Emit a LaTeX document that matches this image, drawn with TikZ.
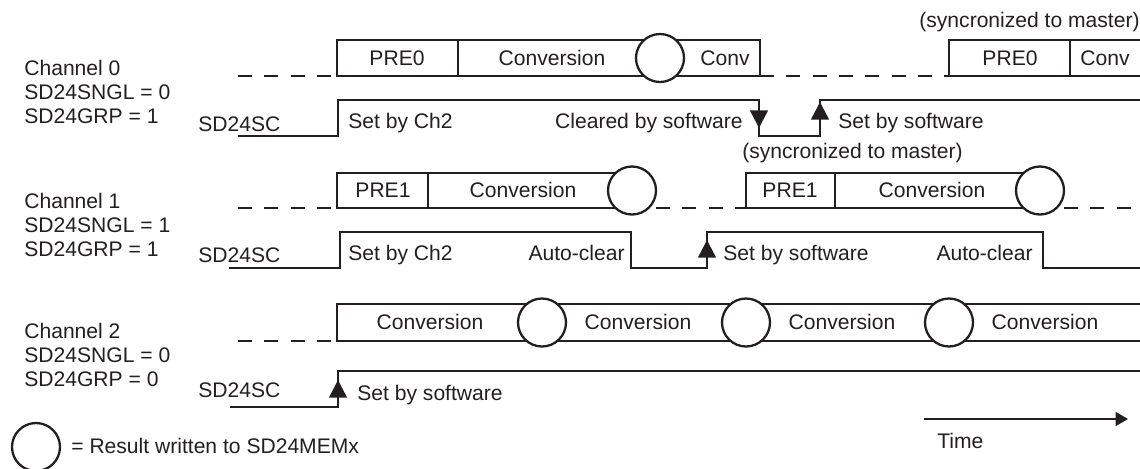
\documentclass[tikz,border=0pt]{standalone}
\usepackage{fontspec}
\setmainfont{Liberation Sans}
\usepackage{tikz}
\usetikzlibrary{arrows.meta,calc,positioning}
\definecolor{ink}{RGB}{35,31,32}
\tikzset{
  sig/.style={line width=1.4pt,draw=ink,line join=miter},
  dashline/.style={sig,dash pattern=on 8pt off 7pt},
  res/.style={circle,draw=ink,fill=white,line width=1.3pt,minimum size=0.96cm,inner sep=0pt},
  lbl/.style={font=\fontsize{12}{14}\selectfont,text=ink,inner sep=0pt},
  edgetip/.style={sig,-{Triangle[width=10pt,length=10pt]}}
}

\begin{document}
\begin{tikzpicture}[x=0.02cm,y=-0.02cm]
  \clip (0,0) rectangle (1140,468);
  % channel names and register settings
  \foreach \n/\s/\g/\y in {0/0/1/75, 1/1/1/208, 2/0/0/338}{
    \node[lbl,anchor=base west] (ch\n) at (24,\y) {Channel \n};
    \node[lbl,anchor=base west] (sngl\n) at (24,\y+24) {SD24SNGL = \s};
    \node[lbl,anchor=base west] (grp\n) at (24,\y+48) {SD24GRP = \g};
  }

  % ---- channel 0 ----
  \draw[dashline] (238,76) -- (337,76);
  \draw[sig] (337,40) rectangle (760,76);
  \draw[sig] (458,40) -- (458,76);
  \node[res] (r0a) at (660,58) {};
  \draw[dashline] (760,76) -- (949,76);
  \draw[sig] (1140,40) -- (949,40) -- (949,76) -- (1140,76);
  \draw[sig] (1070,40) -- (1070,76);
  \node[lbl,anchor=base] (pre0a) at (397,65) {PRE0};
  \node[lbl,anchor=base] (conv0a) at (552,65) {Conversion};
  \node[lbl,anchor=base] (conv0b) at (725,65) {Conv};
  \node[lbl,anchor=base] (pre0b) at (1010,65) {PRE0};
  \node[lbl,anchor=base west] (conv0c) at (1080,65) {Conv};
  \node[lbl,anchor=base east] (sync0) at (1140,27) {(syncronized to master)};

  \draw[sig] (238,136) -- (338,136) -- (338,100) -- (759,100) -- (759,136)
    -- (820,136) -- (820,100) -- (1140,100);
  \draw[edgetip] (759,100) -- (759,128);
  \draw[edgetip] (820,136) -- (820,102);
  \node[lbl,anchor=base west] (sc0) at (198,131) {SD24SC};
  \node[lbl,anchor=base west] (set0a) at (348,128) {Set by Ch2};
  \node[lbl,anchor=base east] (clr0) at (743,128) {Cleared by software};
  \node[lbl,anchor=base west] (set0b) at (838,128) {Set by software};
  \node[lbl,anchor=base west] (sync1) at (742,158) {(syncronized to master)};

  % ---- channel 1 ----
  \draw[dashline] (238,208) -- (337,208);
  \draw[sig] (632,173) -- (337,173) -- (337,208) -- (632,208);
  \draw[sig] (428,173) -- (428,208);
  \node[res] (r1a) at (632,190.5) {};
  \draw[dashline] (656,208) -- (746,208);
  \draw[sig] (1040,173) -- (746,173) -- (746,208) -- (1040,208);
  \draw[sig] (835,173) -- (835,208);
  \node[res] (r1b) at (1040,190.5) {};
  \draw[dashline] (1064,208) -- (1140,208);
  \node[lbl,anchor=base] (pre1a) at (383,197) {PRE1};
  \node[lbl,anchor=base] (conv1a) at (523,197) {Conversion};
  \node[lbl,anchor=base] (pre1b) at (790,197) {PRE1};
  \node[lbl,anchor=base] (conv1b) at (932,197) {Conversion};

  \draw[sig] (229,268) -- (340,268) -- (340,232) -- (631,232) -- (631,268)
    -- (707,268) -- (707,232) -- (1043,232) -- (1043,268) -- (1140,268);
  \draw[edgetip] (707,268) -- (707,240);
  \node[lbl,anchor=base west] (sc1) at (198,262) {SD24SC};
  \node[lbl,anchor=base west] (set1a) at (348,260) {Set by Ch2};
  \node[lbl,anchor=base east] (auto1a) at (625,260) {Auto-clear};
  \node[lbl,anchor=base west] (set1b) at (723,260) {Set by software};
  \node[lbl,anchor=base east] (auto1b) at (1033,260) {Auto-clear};

  % ---- channel 2 ----
  \draw[dashline] (238,341) -- (337,341);
  \draw[sig] (1140,304) -- (337,304) -- (337,341) -- (1140,341);
  \foreach \cx [count=\i] in {542,746,949}
    \node[res] (r2\i) at (\cx,322.5) {};
  \foreach \cx [count=\i] in {430,638,842,1045}
    \node[lbl,anchor=base] (conv2\i) at (\cx,329) {Conversion};

  \draw[sig] (230,407) -- (338,407) -- (338,371) -- (1140,371);
  \draw[edgetip] (338,407) -- (338,380);
  \node[lbl,anchor=base west] (sc2) at (198,397) {SD24SC};
  \node[lbl,anchor=base west] (set2) at (357,400) {Set by software};

  % legend and time axis
  \node[res] (key) at (36,447) {};
  \node[lbl,anchor=base west] (keytxt) at (71,453) {= Result written to SD24MEMx};
  \coordinate (t0) at (924,419);
  \coordinate (t1) at (1128,419);
  \draw[ink,line width=0.7pt,-{Triangle[width=8pt,length=7pt]}] (t0) -- (t1);
  \node[lbl,anchor=base west] (time) at (937,448) {Time};
\end{tikzpicture}
\end{document}
